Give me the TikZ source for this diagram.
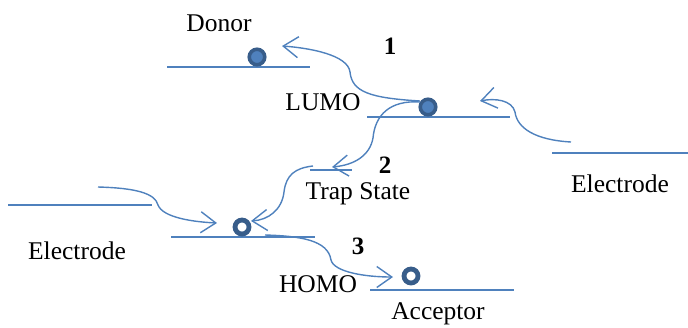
\documentclass[tikz,border=0pt]{standalone}
\usepackage{fontspec}
\setmainfont{Liberation Serif}
\usetikzlibrary{arrows.meta}
\definecolor{lblue}{HTML}{4F81BD}
\definecolor{dblue}{HTML}{385D8A}
\begin{document}
\begin{tikzpicture}[x=1pt,y=-1pt,
  level/.style={draw=lblue,line width=1.5pt},
  hop/.style={draw=lblue,line width=1.4pt,-{Straight Barb[length=15pt,width=21pt,line width=1.4pt]}},
  full/.style={circle,draw=dblue,fill=lblue,line width=3.6pt,minimum size=15.5pt,inner sep=0pt},
  hole/.style={circle,draw=dblue,fill=white,line width=4.8pt,minimum size=14pt,inner sep=0pt},
  lab/.style={font=\fontsize{25.5}{28}\selectfont,inner sep=0pt},
  num/.style={font=\fontsize{25}{28}\selectfont\bfseries,inner sep=0pt}]
\useasboundingbox (0,0) rectangle (688,327);
% levels
\coordinate (dA) at (167,67); \coordinate (dB) at (310,67);
\coordinate (lA) at (367,117); \coordinate (lB) at (510,117);
\coordinate (eA) at (552,153); \coordinate (eB) at (688,153);
\coordinate (tA) at (310,170); \coordinate (tB) at (352,170);
\coordinate (fA) at (8,205); \coordinate (fB) at (152,205);
\coordinate (hA) at (171,237); \coordinate (hB) at (315,237);
\coordinate (aA) at (370,290); \coordinate (aB) at (514,290);
\draw[level] (dA) -- (dB);
\draw[level] (lA) -- (lB);
\draw[level] (eA) -- (eB);
\draw[level] (tA) -- (tB);
\draw[level] (fA) -- (fB);
\draw[level] (hA) -- (hB);
\draw[level] (aA) -- (aB);
% charges
\node[full] (d1) at (257,57) {};
\node[full] (d2) at (428,107) {};
\node[hole] (h1) at (242,227) {};
\node[hole] (h2) at (411,276) {};
% texts
\node[lab] (donor) at (219,23) {Donor};
\node[num] (n1) at (390,46) {1};
\node[lab] (lumo) at (323,102) {LUMO};
\node[num] (n2) at (385,165) {2};
\node[lab] (trap) at (358,194) {Trap State};
\node[lab] (er) at (620,184) {Electrode};
\node[lab] (el) at (77,251) {Electrode};
\node[num] (n3) at (358,246) {3};
\node[lab] (homo) at (318,284) {HOMO};
\node[lab] (acc) at (438,314) {Acceptor};
% arrows
\coordinate (s1) at (420,101);
\coordinate (t1) at (282,46);
\draw[hop] (s1) .. controls (370,98) and (352,92) .. (350,72)
  .. controls (348,55) and (310,48) .. (t1);
\coordinate (s2) at (571,142);
\coordinate (t2) at (480,101);
\draw[hop] (s2) .. controls (535,140) and (517,128) .. (515,112)
  .. controls (512,100) and (495,98) .. (t2);
\coordinate (s3) at (420,102);
\coordinate (t3) at (332,167);
\draw[hop] (s3) .. controls (390,100) and (375,115) .. (373,138)
  .. controls (370,155) and (355,165) .. (t3);
\coordinate (s4) at (98,187);
\coordinate (t4) at (217,223);
\draw[hop] (s4) .. controls (135,188) and (155,193) .. (158,205)
  .. controls (163,218) and (195,222) .. (t4);
\coordinate (s5) at (313,166);
\coordinate (t5) at (251,221);
\draw[hop] (s5) .. controls (295,168) and (286,175) .. (284,192)
  .. controls (282,210) and (268,220) .. (t5);
\coordinate (s6) at (265,235);
\coordinate (t6) at (393,277);
\draw[hop] (s6) .. controls (300,236) and (328,240) .. (331,260)
  .. controls (334,272) and (365,277) .. (t6);
\end{tikzpicture}
\end{document}
